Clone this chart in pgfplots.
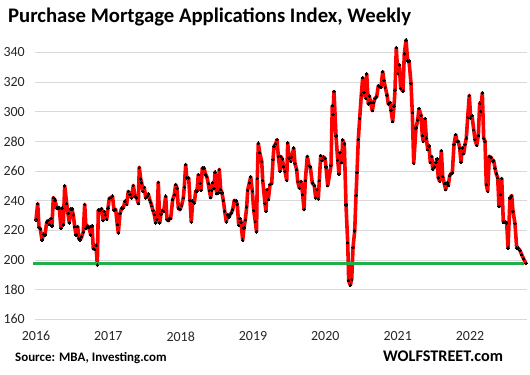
\documentclass[border=0pt]{standalone}
\usepackage{pgfplots}
\pgfplotsset{compat=1.18}
\usepackage{fontspec}
\setmainfont{Carlito}
\definecolor{lgreen}{RGB}{30,175,75}
\definecolor{gridgray}{RGB}{217,217,217}
\begin{document}
\begin{tikzpicture}
\useasboundingbox (0bp,0bp) rectangle (530bp,375bp);
\node[anchor=base west, font=\bfseries\fontsize{20.8}{22}\selectfont, inner sep=0pt] at (8bp,352.3bp) {Purchase Mortgage Applications Index, Weekly};
\begin{axis}[
  at={(35bp,55.7bp)}, anchor=south west,
  scale only axis, width=492bp, height=281.8bp,
  xmin=35, xmax=527, ymin=160, ymax=350,
  axis line style={draw=none},
  major tick length=0pt,
  ytick={160,180,...,340},
  xtick={36,108.3,180.7,253,325.3,397.7,470},
  xticklabels={2016,2017,2018,2019,2020,2021,2022},
  ymajorgrids,
  grid style={draw=gridgray, line width=0.9bp},
  /pgf/number format/assume math mode=true,
  tick label style={font=\fontsize{14}{15}\selectfont, text=black!85},
  yticklabel style={anchor=east, inner sep=0pt, xshift=-10bp},
  xticklabel style={anchor=north, inner sep=0pt, yshift=-12bp},
  clip=false,
]
\addplot[color=red, line width=3.6bp, line join=round, mark=*, mark size=1.25bp, mark options={fill=black, draw=black, line width=0pt}] coordinates {
(36.0,227) (37.7,238) (39.0,222) (40.3,221) (42.0,213.5) (43.7,217.5) (45.0,217) (46.7,225.4) (48.0,226.5) (49.3,224)
(51.0,228) (52.0,223) (53.3,242) (55.0,240.4) (56.7,235) (58.0,235.5) (59.3,235) (61.0,221.3) (62.0,235) (63.3,223.6)
(64.7,250) (66.7,238) (68.0,231.5) (69.3,225) (70.7,234.4) (72.0,234.4) (73.3,230.3) (74.7,222.5) (76.0,217) (77.7,222.5)
(78.7,214.6) (80.0,213.5) (81.7,215.7) (83.3,219) (84.7,237.5) (86.0,221.3) (87.3,223) (89.0,222) (90.7,217) (92.0,223)
(93.3,207.6) (94.7,207.2) (96.0,210) (97.3,196.6) (98.3,233.7) (100.0,233.7) (101.7,234.4) (103.0,226.5) (104.0,232.6) (105.3,230.3)
(106.7,227.4) (108.0,235) (109.3,241.6) (111.0,242) (112.5,243) (114.0,233.7) (115.7,234) (117.3,223.8) (118.3,218.2)
(120.0,231.2) (121.7,235) (123.3,235) (125.0,239.6) (126.7,237.5) (128.3,246.3) (130.0,244) (131.7,241.8) (133.3,250.3) (135.0,243)
(136.7,241.8) (138.3,238) (139.3,262.5) (140.7,254.6) (141.7,252) (143.0,246.3) (144.3,249) (145.7,241.8) (147.0,243) (148.3,244.5)
(149.7,240.7) (150.7,238.9) (151.7,236.6) (153.0,233.3) (154.3,230.6) (155.7,225) (157.0,227.3) (158.3,252.4) (159.7,225) (161.0,231)
(162.3,233.3) (163.7,232.8) (165.7,243) (167.0,227.2) (168.3,226.5) (169.3,228) (170.7,228) (172.7,240.7) (174.3,244) (175.7,250.8)
(177.0,248.5) (178.3,235)
(180.0,233.9) (181.7,236.9) (183.3,242) (184.3,249.2) (185.7,264.3) (186.7,255.3) (188.7,255.3) (190.0,240.2) (191.3,225.6) (192.7,239.6)
(194.3,238.4) (195.7,246.5) (197.0,246.5) (198.3,257.5) (200.0,251.5) (201.0,247) (202.3,262) (204.0,262) (205.7,257.5) (206.7,256.4)
(208.3,251.5) (209.3,247) (210.7,242) (211.7,247) (212.7,252.1) (214.0,248.1) (215.0,259.3) (216.7,244.7) (218.0,245.2) (219.3,261.1)
(220.7,247.4) (222.0,245.2) (223.3,240.2) (224.7,233) (226.3,225.6) (227.7,230.6) (229.0,229) (230.0,230.6) (231.3,231.7) (232.7,233.9)
(234.3,240.2) (236.0,239.8) (237.3,237.5) (238.7,223.4) (240.0,227.9) (241.0,225.6) (242.7,213.3) (244.0,221.6) (245.3,227.2) (246.7,235.7)
(247.7,247) (249.3,251.9) (250.7,256) (252.3,246.5) (253.7,233.5)
(255.3,226) (256.5,219) (257.3,255) (258.3,278.7) (259.7,272.4) (261.7,266.5) (262.7,253.7) (265.0,238) (266.0,232.8) (267.0,247.4)
(268.3,240.7) (270.0,250.8) (271.7,251.5) (273.0,267.6) (274.0,276.6) (275.7,278.4) (277.0,281.1) (278.3,269.9) (280.0,259.8) (280.7,269.9)
(282.3,268.1) (283.7,262.7) (285.0,259.8) (286.7,253.7) (287.7,278.9) (289.0,268.8) (290.7,266.5) (291.7,269.4) (293.7,275.5) (295.0,264.9)
(296.7,260.9) (297.7,253) (299.3,248.5) (301.0,253) (302.7,244) (304.0,233.9) (305.3,253.5) (307.3,269.9) (309.0,263.6) (310.3,262.7)
(312.3,251.9) (314.3,250.1) (315.7,241.8) (317.0,247.4) (318.3,241.1) (319.3,253.7) (320.7,270.3) (322.0,267) (323.7,269.4) (325.0,268.4)
(326.0,262.7) (327.7,250.1) (331.0,263.6) (332.3,304) (333.0,298) (334.0,313.7)
(336.0,283.7) (337.7,267.4) (339.0,258) (340.0,272.4) (341.7,265.6) (342.7,280.9) (344.3,278.2) (346.0,237.1) (347.7,211.7) (348.7,186)
(350.3,183) (351.7,187) (353.0,208.3) (354.7,219.6) (356.0,243.4) (357.0,258.9) (358.3,281.3) (359.7,295.5) (361.3,311.2) (362.7,322.9)
(364.0,312.8) (365.7,309) (366.7,325.4) (368.3,305.2) (369.3,310.6) (370.7,306.1) (372.3,300.7) (373.7,306.1) (375.0,309) (376.7,310.1)
(378.3,317.3) (379.7,316.9) (381.0,316.4) (382.7,327) (384.0,320.9) (385.3,316.4) (387.0,311.2) (388.3,305.2) (390.0,306.1) (391.0,301.1)
(392.7,293.3) (394.0,303.8) (395.0,314.6) (396.3,343.1) (397.7,325.8) (399.3,331.5) (400.7,315.7) (403.0,313.9) (404.3,338.9) (406.0,348.3)
(407.7,334.2) (409.0,334.2) (411.0,319.1) (412.3,299.3) (413.7,265.2)
(416.0,289) (417.7,294.5) (419.0,302) (421.0,297.5) (422.3,283.8) (423.3,280) (425.0,295.3) (426.3,282.2) (427.7,274.4) (429.0,277)
(430.3,265.8) (431.7,269.9) (432.7,261.3) (434.3,262.7) (436.0,265.8) (437.0,268.1) (438.3,255.3) (439.7,253) (441.3,273.7) (442.7,256.4)
(444.3,251.5) (445.7,247.4) (447.0,251.9) (448.3,250.1) (449.7,256.9) (451.0,258.2) (452.3,258.7) (454.0,277.8) (455.7,284.5) (457.0,280)
(458.3,280) (459.7,275.5) (461.0,266) (462.3,275.5) (463.7,271.7) (465.0,277.8) (466.3,282.2) (467.7,296.2) (469.3,311) (470.7,295.7)
(472.0,297.3) (473.7,287.9) (475.0,281.1) (476.7,277.3) (478.3,283.8) (479.7,305.8) (480.7,300.2) (482.3,312.6) (483.7,282.2) (485.0,280)
(486.3,250.8) (487.7,246.3) (489.3,269.9) (491.0,269.2) (492.7,266.5) (493.7,267) (495.0,262) (496.3,258) (497.7,255.5) (499.0,236)
(500.3,244) (501.7,255) (503.3,225.5) (505.0,225.5) (506.7,225) (508.0,208) (510.0,241.8) (511.7,243.4) (513.0,232.8) (515.0,224.5)
(516.7,208) (518.3,208) (520.0,206.3) (521.7,203.6) (523.7,200.7) (526.0,197.5)
};
\addplot[color=lgreen, line width=3bp, forget plot] coordinates {(33,197.8) (524,197.8)};
\end{axis}
\node[anchor=base west, font=\bfseries\fontsize{13}{14}\selectfont, inner sep=0pt] at (15bp,13.3bp) {Source: MBA, Investing.com};
\node[anchor=base west, font=\bfseries\fontsize{16.3}{17}\selectfont, inner sep=0pt] at (383bp,13.3bp) {WOLFSTREET.com};
\end{tikzpicture}
\end{document}
